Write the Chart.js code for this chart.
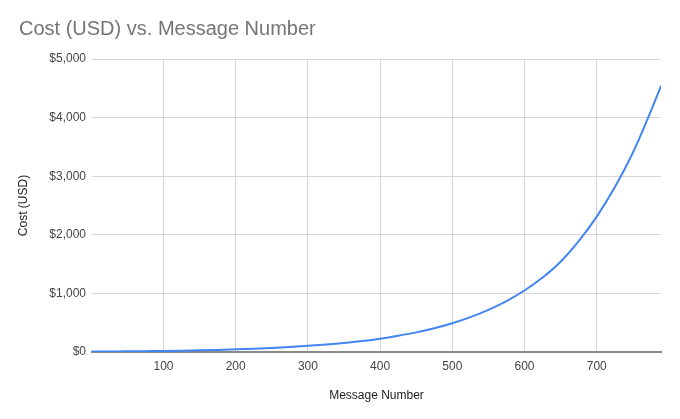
<!DOCTYPE html>
<html>
<head>
<meta charset="utf-8">
<script src="https://cdn.jsdelivr.net/npm/chart.js@4"></script>
<style>
  html, body { margin: 0; padding: 0; background: #fff; }
  #wrap { width: 680px; height: 419px; }
</style>
</head>
<body>
<div id="wrap"><canvas id="costchart"></canvas></div>
<script>
// values
const messageNumbers = [1, 25, 50, 75, 100, 125, 150, 175, 200, 225, 250, 275, 300, 325, 350, 375, 400,
  425, 450, 475, 500, 525, 550, 575, 600, 625, 650, 675, 700, 725, 750, 775, 789];
const costUsd = [7, 9, 11, 14, 17, 22, 28, 36, 45, 56, 70, 86, 105, 128, 155, 188, 228,
  278, 335, 405, 490, 595, 720, 870, 1050, 1270, 1540, 1890, 2310, 2810, 3400, 4110, 4540];
const xTicks = [100, 200, 300, 400, 500, 600, 700];
const yTicks = [0, 1000, 2000, 3000, 4000, 5000];

const points = messageNumbers.map((n, i) => ({ x: n, y: costUsd[i] }));

const ctx = document.getElementById("costchart").getContext('2d');
const fontFamily = 'Liberation Sans, Arial, sans-serif';

const config = {
  type: 'line',
  data: {
    datasets: [{
      label: 'Cost (USD)',
      data: points,
      borderColor: '#4285f4',
      borderWidth: 2,
      pointRadius: 0,
      cubicInterpolationMode: 'monotone',
      fill: false
    }]
  },
  options: {
    responsive: true,
    maintainAspectRatio: false,
    animation: false,
    layout: { padding: { left: 19, right: 19, top: 0, bottom: 16 } },
    plugins: {
      legend: { display: false },
      tooltip: { enabled: false },
      title: {
        display: true,
        text: 'Cost (USD) vs. Message Number',
        align: 'start',
        color: '#757575',
        font: { family: fontFamily, size: 20, weight: 'normal' },
        padding: { top: 17, bottom: 18 }
      }
    },
    scales: {
      x: {
        type: 'linear',
        min: 1,
        max: 789,
        afterBuildTicks: (scale) => { scale.ticks = xTicks.map(v => ({ value: v })); },
        afterFit: (scale) => { scale.height = 51; },
        grid: { color: '#d6d6d6', drawTicks: false },
        border: { display: true, color: '#8a8a8a', width: 2 },
        ticks: {
          color: '#444',
          padding: 7,
          maxRotation: 0,
          font: { family: fontFamily, size: 12 }
        },
        title: {
          display: true,
          text: 'Message Number',
          color: '#222',
          padding: { top: 0, bottom: 0 },
          font: { family: fontFamily, size: 12 }
        }
      },
      y: {
        min: 0,
        max: 5000,
        afterBuildTicks: (scale) => { scale.ticks = yTicks.map(v => ({ value: v })); },
        afterFit: (scale) => { scale.width = 73; },
        grid: { color: '#d6d6d6', drawTicks: false },
        border: { display: false },
        ticks: {
          color: '#444',
          padding: 6,
          font: { family: fontFamily, size: 12 },
          callback: (v) => '$' + v.toLocaleString('en-US')
        },
        title: {
          display: true,
          text: 'Cost (USD)',
          color: '#222',
          padding: { top: -3, bottom: 0 },
          font: { family: fontFamily, size: 12 }
        }
      }
    }
  }
};

const myChart = new Chart(ctx, config);
</script>
</body>
</html>
